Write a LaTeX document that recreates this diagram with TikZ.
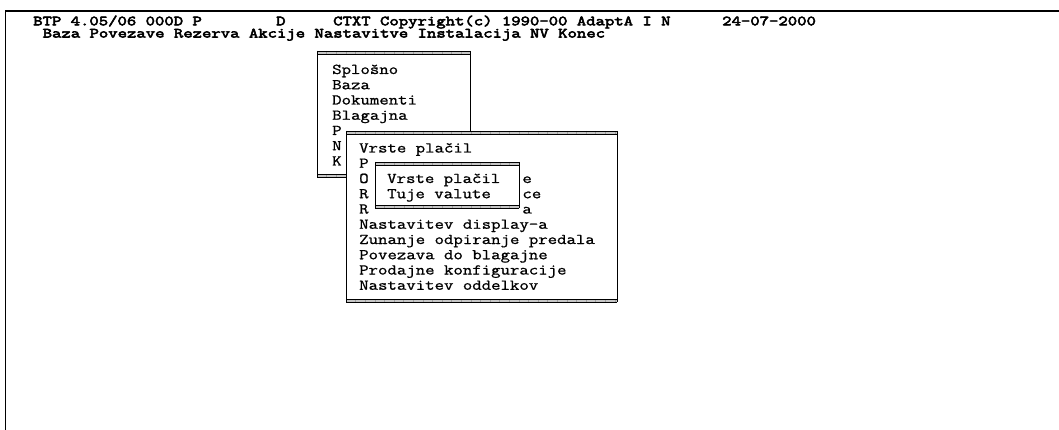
\documentclass[tikz,border=0pt]{standalone}
\usepackage{fontspec}
\newfontfamily\menufont[FakeStretch=1.22,FakeBold=1]{Latin Modern Mono}
\newfontfamily\headfont[FakeStretch=1.30]{Latin Modern Mono}
\newcommand\strongtxt[1]{\special{pdf:literal direct 2 Tr 0.55 w}#1\special{pdf:literal direct 0 Tr 0.4 w}}
\tikzset{
  mtext/.style={anchor=base west, inner sep=0pt, font=\fontsize{15}{15}\selectfont\menufont},
  htext/.style={anchor=base west, inner sep=0pt, text height=8.5pt, text depth=1pt, font=\fontsize{14}{14}\selectfont\headfont},
  frameline/.style={line width=1.8pt, line cap=rect},
  boxline/.style={line width=0.9pt},
  bandfill/.style={fill=gray!45},
  tickline/.style={draw=gray!75, line width=0.4pt},
}
% window with double-line (gray) top and bottom bands
\newcommand\winbox[4]{%
  \fill[white] (#1,#2) rectangle (#3,#4);
  \fill[bandfill] (#1,#2) rectangle (#3,#2+3.2);
  \fill[bandfill] (#1,#4-3) rectangle (#3,#4);
  \pgfmathtruncatemacro\wnt{(#3-#1)/9.6}%
  \foreach \k in {0,...,\wnt} {
    \draw[tickline] (#1+\k*9.6,#2) -- (#1+\k*9.6,#2+3.2);
    \draw[tickline] (#1+\k*9.6,#4-3) -- (#1+\k*9.6,#4);
  }
  \draw[boxline] (#1,#2) -- (#3,#2);
  \draw[line width=0.4pt] (#1,#2+3.2) -- (#3,#2+3.2);
  \draw[line width=0.4pt] (#1,#4-3) -- (#3,#4-3);
  \draw[boxline] (#1,#4) -- (#3,#4);
  \draw[boxline] (#1,#2) -- (#1,#4);
  \draw[boxline] (#3,#2) -- (#3,#4);
}
\begin{document}
\begin{tikzpicture}[x=1pt,y=-1pt]
\useasboundingbox (0,0) rectangle (1059,430);
\fill[white] (0,0) rectangle (1059,430);
% outer frame
\draw[frameline] (5.5,430) -- (5.5,11) -- (1059,11);
% header
\node[htext] (h1a) at (33,25.3) {\strongtxt{BTP 4.05/06 000D P}};
\node[htext] (h1b) at (276,25.3) {\strongtxt{D}};
\node[htext] (h1c) at (333,25.3) {\strongtxt{CTXT Copyright(c) 1990-00 AdaptA I N}};
\node[htext] (h1d) at (722,25.3) {\strongtxt{24-07-2000}};
\node[htext] (h2) at (42.5,37.5) {\strongtxt{Baza Povezave Rezerva Akcije Nastavitve Instalacija NV Konec}};
% window 1
\winbox{317}{51}{470}{177}
\node[mtext] (m1a) at (332,74) {Splošno};
\node[mtext] (m1b) at (332,74+15.25) {Baza};
\node[mtext] (m1c) at (332,74+2*15.25) {Dokumenti};
\node[mtext] (m1d) at (332,74+3*15.25) {Blagajna};
\node[mtext] (m1e) at (332,74+4*15.25) {P};
\node[mtext] (m1f) at (332,74+5*15.25) {N};
\node[mtext] (m1g) at (332,74+6*15.25) {K};
% window 2
\winbox{346}{131}{617}{302}
\node[mtext] (m2a) at (359,152.5) {Vrste plačil};
\node[mtext] (m2b) at (359,152.5+15.25) {P};
\node[mtext] (m2c) at (359,152.5+2*15.25) {O};
\node[mtext] (m2cr) at (359+17*9.6,152.5+2*15.25) {e};
\node[mtext] (m2d) at (359,152.5+3*15.25) {R};
\node[mtext] (m2dr) at (359+17*9.6,152.5+3*15.25) {ce};
\node[mtext] (m2e) at (359,152.5+4*15.25) {R};
\node[mtext] (m2er) at (359+17*9.6,152.5+4*15.25) {a};
\node[mtext] (m2f) at (359,152.5+5*15.25) {Nastavitev display-a};
\node[mtext] (m2g) at (359,152.5+6*15.25) {Zunanje odpiranje predala};
\node[mtext] (m2h) at (359,152.5+7*15.25) {Povezava do blagajne};
\node[mtext] (m2i) at (359,152.5+8*15.25) {Prodajne konfiguracije};
\node[mtext] (m2j) at (359,152.5+9*15.25) {Nastavitev oddelkov};
% window 3
\winbox{375}{162}{519}{208}
\node[mtext] (m3a) at (387,152.5+2*15.25) {Vrste plačil};
\node[mtext] (m3b) at (387,152.5+3*15.25) {Tuje valute};
\end{tikzpicture}
\end{document}
